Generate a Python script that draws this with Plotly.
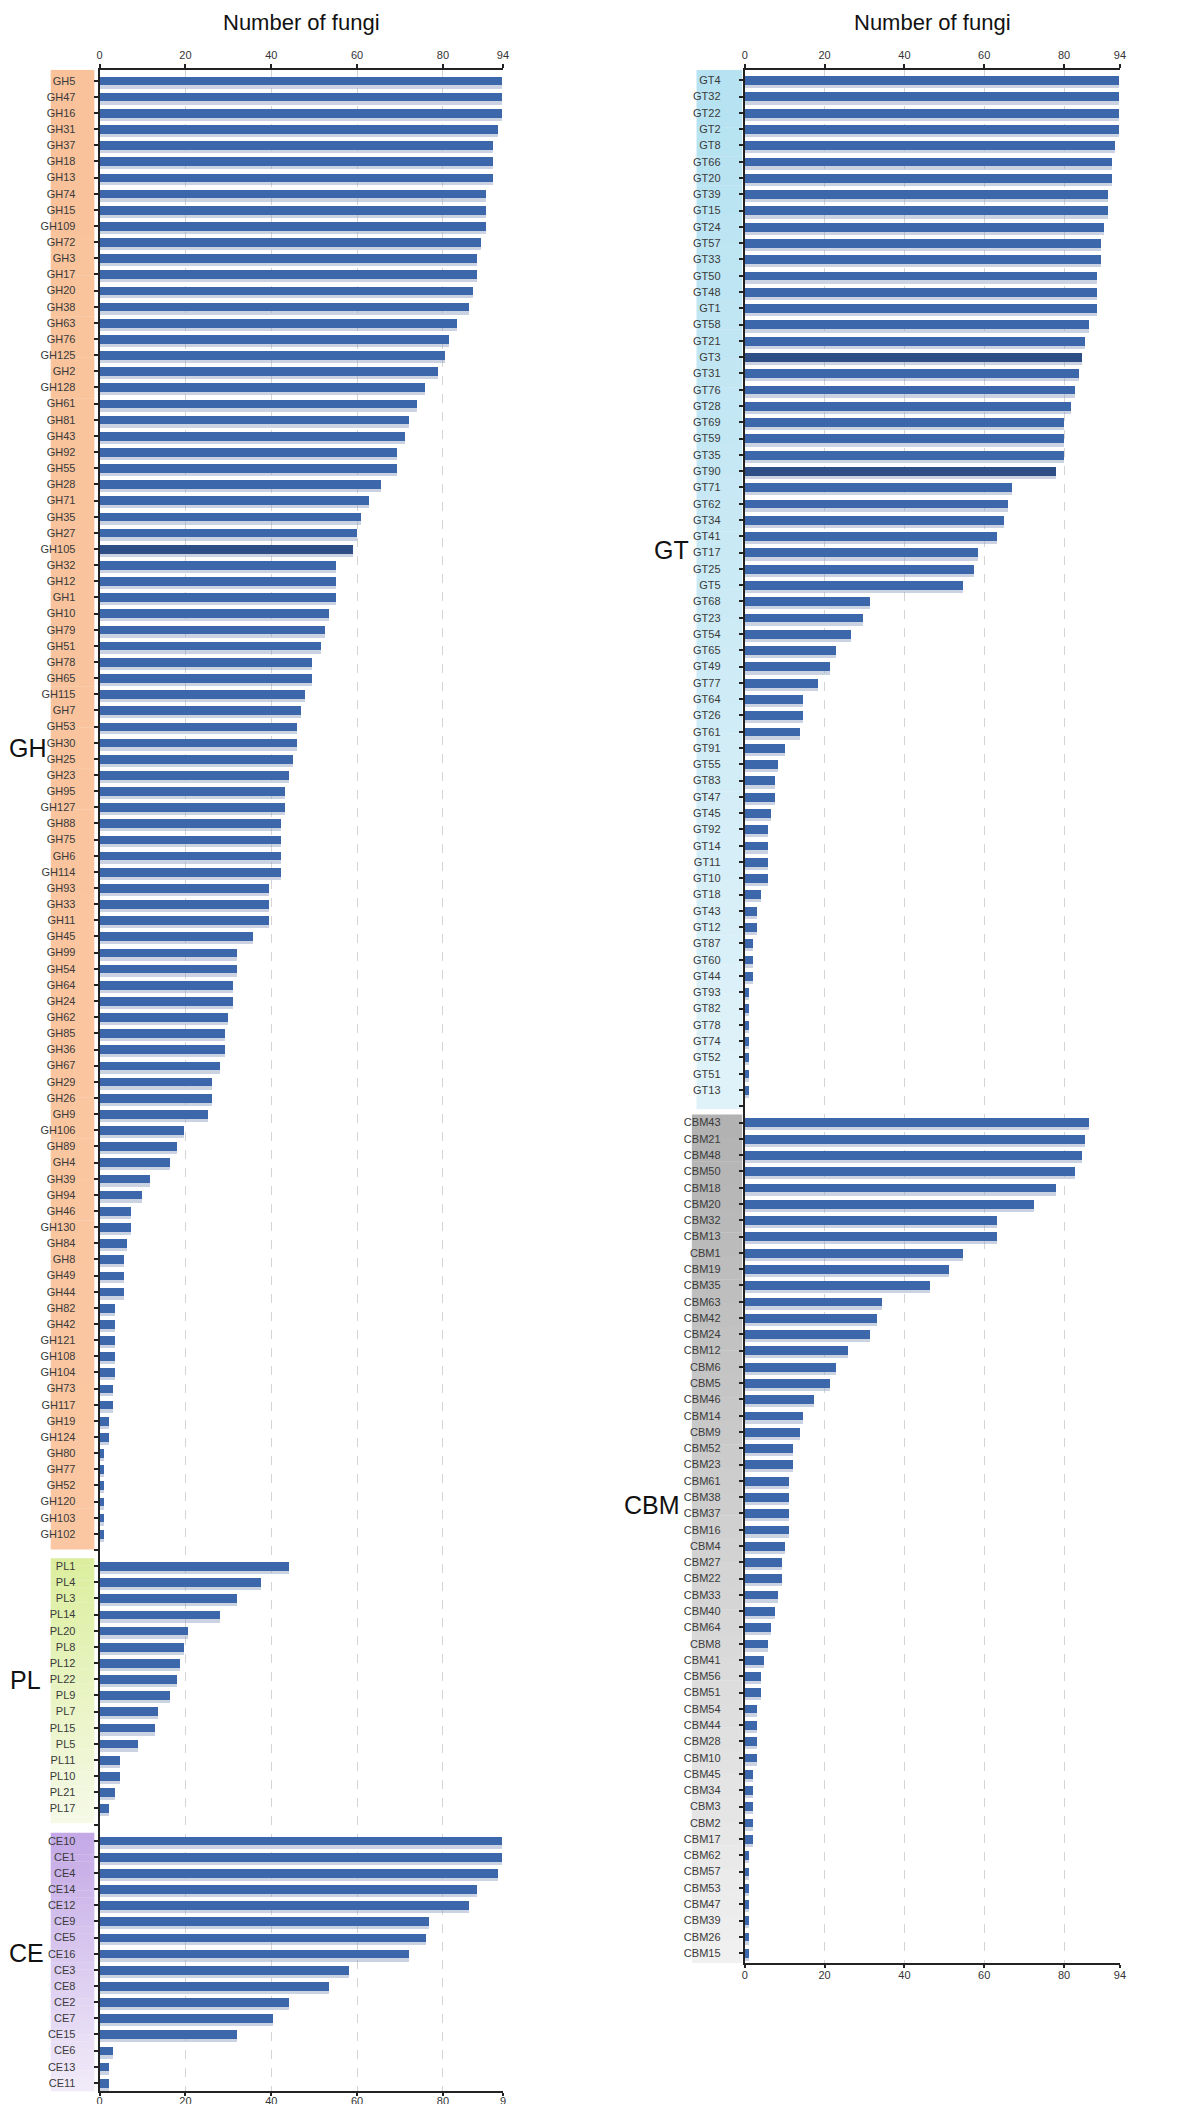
import plotly.graph_objects as go

# ---------------- data ----------------
gh_names = ["GH5","GH47","GH16","GH31","GH37","GH18","GH13","GH74","GH15","GH109",
            "GH72","GH3","GH17","GH20","GH38","GH63","GH76","GH125","GH2","GH128",
            "GH61","GH81","GH43","GH92","GH55","GH28","GH71","GH35","GH27","GH105",
            "GH32","GH12","GH1","GH10","GH79","GH51","GH78","GH65","GH115","GH7",
            "GH53","GH30","GH25","GH23","GH95","GH127","GH88","GH75","GH6","GH114",
            "GH93","GH33","GH11","GH45","GH99","GH54","GH64","GH24","GH62","GH85",
            "GH36","GH67","GH29","GH26","GH9","GH106","GH89","GH4","GH39","GH94",
            "GH46","GH130","GH84","GH8","GH49","GH44","GH82","GH42","GH121","GH108",
            "GH104","GH73","GH117","GH19","GH124","GH80","GH77","GH52","GH120","GH103","GH102"]
gh_vals = [93.8,93.8,93.8,92.7,91.7,91.7,91.7,89.9,89.9,89.9,
           88.9,87.9,87.9,87.0,86.0,83.3,81.4,80.4,78.7,75.7,
           73.9,72.0,71.0,69.3,69.3,65.4,62.6,60.8,59.8,59.0,
           55.1,55.1,55.1,53.4,52.4,51.5,49.5,49.5,47.7,46.8,
           45.9,45.9,44.9,44.0,43.1,43.1,42.1,42.1,42.1,42.1,
           39.3,39.3,39.3,35.6,32.0,32.0,30.9,30.9,29.9,29.1,
           29.1,28.0,26.2,26.2,25.2,19.6,17.9,16.2,11.7,9.9,
           7.3,7.3,6.3,5.6,5.6,5.6,3.6,3.6,3.6,3.6,
           3.6,3.0,3.0,2.0,2.0,1.0,1.0,1.0,1.0,1.0,1.0]

pl_names = ["PL1","PL4","PL3","PL14","PL20","PL8","PL12","PL22","PL9","PL7",
            "PL15","PL5","PL11","PL10","PL21","PL17"]
pl_vals = [44.0,37.6,32.0,28.0,20.6,19.6,18.7,17.9,16.2,13.5,12.7,8.9,4.6,4.6,3.6,2.0]

ce_names = ["CE10","CE1","CE4","CE14","CE12","CE9","CE5","CE16","CE3","CE8",
            "CE2","CE7","CE15","CE6","CE13","CE11"]
ce_vals = [93.8,93.8,92.7,87.9,86.0,76.7,75.9,72.0,58.1,53.4,44.0,40.3,32.0,3.0,2.0,2.0]

gt_names = ["GT4","GT32","GT22","GT2","GT8","GT66","GT20","GT39","GT15","GT24",
            "GT57","GT33","GT50","GT48","GT1","GT58","GT21","GT3","GT31","GT76",
            "GT28","GT69","GT59","GT35","GT90","GT71","GT62","GT34","GT41","GT17",
            "GT25","GT5","GT68","GT23","GT54","GT65","GT49","GT77","GT64","GT26",
            "GT61","GT91","GT55","GT83","GT47","GT45","GT92","GT14","GT11","GT10",
            "GT18","GT43","GT12","GT87","GT60","GT44","GT93","GT82","GT78","GT74",
            "GT52","GT51","GT13"]
gt_vals = [93.8,93.8,93.8,93.8,92.8,91.9,91.9,90.9,90.9,90.0,
           89.2,89.2,88.1,88.1,88.1,86.3,85.3,84.4,83.6,82.6,
           81.6,79.9,79.9,79.9,77.9,66.8,65.8,64.9,63.1,58.4,
           57.4,54.7,31.4,29.5,26.6,22.9,21.2,18.4,14.6,14.6,
           13.8,10.1,8.3,7.4,7.4,6.6,5.7,5.7,5.7,5.7,
           3.9,3.0,3.0,1.9,1.9,1.9,1.1,1.1,1.1,1.1,
           1.1,1.1,1.1]

cbm_names = ["CBM43","CBM21","CBM48","CBM50","CBM18","CBM20","CBM32","CBM13","CBM1","CBM19",
             "CBM35","CBM63","CBM42","CBM24","CBM12","CBM6","CBM5","CBM46","CBM14","CBM9",
             "CBM52","CBM23","CBM61","CBM38","CBM37","CBM16","CBM4","CBM27","CBM22","CBM33",
             "CBM40","CBM64","CBM8","CBM41","CBM56","CBM51","CBM54","CBM44","CBM28","CBM10",
             "CBM45","CBM34","CBM3","CBM2","CBM17","CBM62","CBM57","CBM53","CBM47","CBM39",
             "CBM26","CBM15"]
cbm_vals = [86.3,85.3,84.4,82.6,77.9,72.3,63.1,63.1,54.7,51.1,
            46.3,34.2,33.1,31.4,25.8,22.9,21.2,17.4,14.6,13.8,
            12.1,12.1,11.0,11.0,11.0,11.0,10.1,9.3,9.3,8.3,
            7.4,6.6,5.7,4.7,3.9,3.9,3.0,3.0,3.0,3.0,
            1.9,1.9,1.9,1.9,1.9,1.1,1.1,1.1,1.1,1.1,
            1.1,1.1]

x_tickvals = [0, 20, 40, 60, 80, 94]
x_ticktext = ["0", "20", "40", "60", "80", "94"]
x_ticktext_left_bottom = ["0", "20", "40", "60", "80", "9"]
highlighted = {"GH105", "GT3", "GT90"}

# ---------------- style ----------------
W, H = 1200, 2104
FONT = "Liberation Sans, Arial, Helvetica, sans-serif"
BAR = "#3d67ab"
BAR_DARK = "#2e4f86"
SHADOW = "rgba(140,155,190,0.45)"
BAR_W = 0.54

band_colors = {
    "GH": ("#f9c29a", "#fac7a2"),
    "PL": ("#dcee9e", "#f5f9e6"),
    "CE": ("#c4a9e6", "#f1ebf9"),
    "GT": ("#b6e2f1", "#e0f2f9"),
    "CBM": ("#b2b2b2", "#f0f0f0"),
}


def layout_groups(groups):
    pos = 0
    ys, names, vals, tv, tt, spans = [], [], [], [], [], []
    for gi, (g, n, v) in enumerate(groups):
        if gi > 0:
            tv.append(pos); tt.append(""); pos += 1
        start = pos
        for nm, val in zip(n, v):
            ys.append(pos); names.append(nm); vals.append(val)
            tv.append(pos); tt.append(nm); pos += 1
        spans.append((g, start, pos - 1))
    return ys, names, vals, tv, tt, spans, pos


left = layout_groups([("GH", gh_names, gh_vals), ("PL", pl_names, pl_vals), ("CE", ce_names, ce_vals)])
right = layout_groups([("GT", gt_names, gt_vals), ("CBM", cbm_names, cbm_vals)])

fig = go.Figure()


def add_panel(panel, xa_top, xa_bot, ya):
    ys, names, vals, tv, tt, spans, n = panel
    cols = [BAR_DARK if nm in highlighted else BAR for nm in names]
    fig.add_trace(go.Bar(x=vals, y=ys, orientation="h", width=BAR_W,
                         offset=-BAR_W / 2 + 0.2, marker=dict(color=SHADOW, line=dict(width=0)),
                         xaxis=xa_top, yaxis=ya, hoverinfo="skip", showlegend=False))
    fig.add_trace(go.Bar(x=vals, y=ys, orientation="h", width=BAR_W,
                         marker=dict(color=cols, line=dict(width=0)), text=names,
                         hovertemplate="%{text}: %{x}<extra></extra>",
                         textposition="none",
                         xaxis=xa_bot, yaxis=ya, showlegend=False))


add_panel(left, "x", "x3", "y")
add_panel(right, "x2", "x4", "y2")

# domains in paper coordinates (from pixel geometry)
def px_x(p):
    return p / W

def px_y(p):
    return 1 - p / H

left_xdom = [px_x(89.3), px_x(495.7)]
right_xdom = [px_x(739.3), px_x(1117.3)]
left_ydom = [px_y(2083.3), px_y(61.7)]
right_ydom = [px_y(1955.0), px_y(61.7)]

xcommon = dict(range=[0, 94], tickmode="array", tickvals=x_tickvals,
               ticks="outside", ticklen=4, tickwidth=1.5, tickcolor="#222",
               showline=True, linecolor="#222", linewidth=2,
               tickfont=dict(family=FONT, size=11, color="#333"), zeroline=False,
               fixedrange=True)

ycommon = dict(tickmode="array", ticks="outside", ticklen=4, tickwidth=1.5,
               tickcolor="#222", showline=True, linecolor="#222", linewidth=2,
               showgrid=False, zeroline=False,
               tickfont=dict(family=FONT, size=11, color="#3a3a3a"),
               ticklabelstandoff=16, fixedrange=True)

fig.update_layout(
    width=W, height=H, autosize=False,
    margin=dict(l=0, r=0, t=0, b=0),
    paper_bgcolor="white", plot_bgcolor="rgba(0,0,0,0)",
    barmode="overlay", bargap=0,
    font=dict(family=FONT, color="#222"),
    xaxis=dict(xcommon, domain=left_xdom, anchor="y", side="top", ticktext=x_ticktext,
               showgrid=True, gridcolor="#d4d4d4", griddash="dash", gridwidth=1),
    xaxis3=dict(xcommon, overlaying="x", anchor="y", side="bottom", ticklen=3,
                ticklabelstandoff=-5,
                ticktext=x_ticktext_left_bottom, showgrid=False),
    xaxis2=dict(xcommon, domain=right_xdom, anchor="y2", side="top", ticktext=x_ticktext,
                showgrid=True, gridcolor="#d4d4d4", griddash="dash", gridwidth=1),
    xaxis4=dict(xcommon, overlaying="x2", anchor="y2", side="bottom", ticklen=3,
                ticklabelstandoff=-2,
                ticktext=x_ticktext, showgrid=False),
    yaxis=dict(ycommon, domain=left_ydom, anchor="x",
               range=[left[6] - 1 + 0.52, -0.68], tickvals=left[3], ticktext=left[4]),
    yaxis2=dict(ycommon, domain=right_ydom, anchor="x2",
                range=[right[6] - 1 + 0.61, -0.65], tickvals=right[3], ticktext=right[4]),
)

# colour bands behind group tick labels (gradient via slices)
def hex2rgb(h):
    h = h.lstrip("#")
    return tuple(int(h[i:i + 2], 16) for i in (0, 2, 4))


shapes = []
def add_band(g, y0, y1, x0, x1, yref, nslices=36):
    c0, c1 = (hex2rgb(c) for c in band_colors[g])
    for k in range(nslices):
        t = k / (nslices - 1)
        c = tuple(round(a + (b - a) * t) for a, b in zip(c0, c1))
        a0 = y0 + (y1 - y0) * k / nslices
        a1 = y0 + (y1 - y0) * (k + 1) / nslices
        shapes.append(dict(type="rect", xref="paper", yref=yref, x0=x0, x1=x1,
                           y0=a0, y1=a1 + 0.02, fillcolor="rgb(%d,%d,%d)" % c,
                           line=dict(width=0), layer="below"))


for i, (g, s, e) in enumerate(left[5]):
    top = -0.68 if i == 0 else s - 0.5
    bot = e + 0.95 if i == 0 else min(e + 0.9, left[6] - 1 + 0.55)
    add_band(g, top, bot, px_x(40), px_x(84), "y")
for i, (g, s, e) in enumerate(right[5]):
    top = -0.65 if i == 0 else s - 0.5
    bot = e + 1.15 if i == 0 else right[6] - 1 + 0.62
    x0 = 690.7 if g == "GT" else 686
    add_band(g, top, bot, px_x(x0), px_x(736.7), "y2")

fig.update_layout(shapes=shapes)

# titles and group labels
ann = []
for xd in (left_xdom, right_xdom):
    ann.append(dict(text="Number of fungi", xref="paper", yref="paper",
                    x=(xd[0] + xd[1]) / 2, y=px_y(15), xanchor="center", yanchor="middle",
                    showarrow=False, font=dict(family=FONT, size=22, color="#111")))
group_label_pos = {"GH": (17.5, 740), "PL": (15, 1672), "CE": (16, 1945),
                   "GT": (665, 542), "CBM": (646, 1497)}
for g, (gx, gy) in group_label_pos.items():
    ann.append(dict(text=g, xref="paper", yref="paper", x=px_x(gx), y=px_y(gy),
                    xanchor="center", yanchor="middle", showarrow=False,
                    font=dict(family=FONT, size=25, color="#111")))
fig.update_layout(annotations=ann)

fig.write_html("out.html")
